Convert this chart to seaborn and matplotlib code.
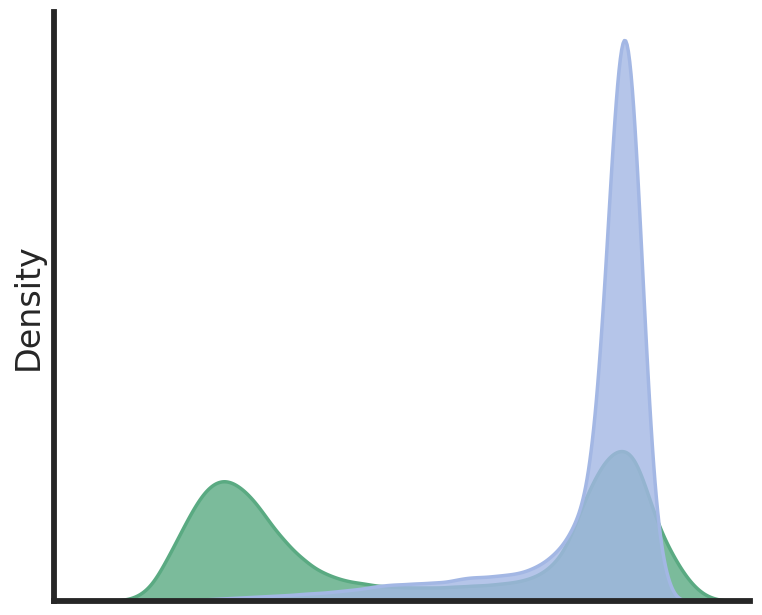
import numpy as np
import pandas as pd
import matplotlib
matplotlib.use('Agg')
import matplotlib.pyplot as plt
import seaborn as sns

# score positions (one bin every unit)
score = np.arange(5, 68)

# density heights, one per score bin
green_vals = [0, 0.3, 1, 3, 8, 18, 35, 53, 72, 90,
              105, 114, 117, 114, 107, 97, 84, 70, 59, 48,
              40, 32, 27, 23, 20, 18, 17, 15, 14, 14,
              13, 13, 13, 13, 13, 14, 14, 15, 15, 16,
              17, 18, 20, 23, 28, 36, 48, 70, 96, 117,
              134, 144, 147, 140, 115, 84, 60, 42, 26, 14,
              6, 2, 0.5]
blue_vals = [0, 0, 0, 0, 0, 0, 0, 0.3, 0.5, 1,
             1.5, 2, 2.5, 3, 3.5, 4, 4.5, 5, 5.5, 6,
             7, 7.5, 8, 9, 10, 11, 12, 14, 15, 16,
             16, 17, 17, 18, 18, 20, 22, 23, 23, 24,
             25, 26, 28, 32, 37, 45, 55, 72, 94, 155,
             287, 476, 600, 497, 275, 90, 27, 2, 0, 0,
             0, 0, 0]

groups = ['blue', 'green']
colors = {'blue': '#a3b7e4', 'green': '#5aaa82'}

sns.set_theme(style='white')

df = pd.concat([
    pd.DataFrame({'score': score, 'w': blue_vals, 'group': 'blue'}),
    pd.DataFrame({'score': score, 'w': green_vals, 'group': 'green'}),
], ignore_index=True)


# same kernel width for both groups (about 0.75 score units)
def kernel_factor(kde):
    return 0.75 / np.sqrt(np.cov(kde.dataset, aweights=kde.weights))


fig, ax = plt.subplots(figsize=(7.62, 6.15), dpi=100)
fig.subplots_adjust(left=0.0705, right=0.9843, bottom=0.0228, top=0.9805)

sns.kdeplot(data=df, x='score', weights='w', hue='group', hue_order=groups,
            palette=colors, common_norm=True, fill=True, alpha=0.8,
            linewidth=2.5, bw_method=kernel_factor, gridsize=500,
            legend=False, ax=ax)

ax.set_xlim(0, 69.6)
ax.set_xticks([])
ax.set_yticks([])
ax.set_xlabel('')
ax.set_ylabel('Density', fontsize=24, labelpad=6.3)
sns.despine(ax=ax)
for side in ['left', 'bottom']:
    ax.spines[side].set_linewidth(4.2)
    ax.spines[side].set_color('#262626')

fig.savefig('out.png', dpi=100)
